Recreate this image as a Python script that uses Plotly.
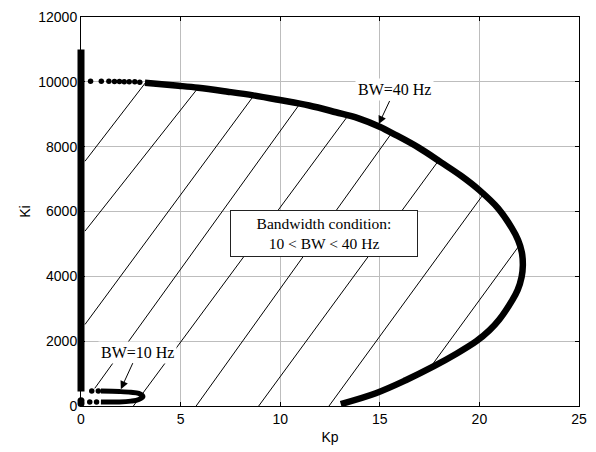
import plotly.graph_objects as go

# ---- data ----
# BW = 40 Hz boundary curve (Kp, Ki), from the Ki=0 end round to the top-left end
bw40_kp = [13.04, 14.80, 16.30, 17.72, 18.78, 19.85, 20.50, 21.00, 21.66, 21.92, 22.12, 22.18,
           22.13, 21.94, 21.63, 20.95, 19.98, 19.07, 18.08, 16.95, 15.76, 15.02, 13.90, 12.80,
           11.45, 9.98, 8.65, 7.36, 5.88, 4.89, 3.21]
bw40_ki = [60, 394, 794, 1227, 1588, 2000, 2333, 2667, 3273, 3576, 3985, 4333,
           4742, 5121, 5485, 6090, 6667, 7106, 7515, 7970, 8373, 8606, 8880, 9061,
           9270, 9439, 9582, 9697, 9818, 9879, 9970]
# sparse dots at the top-left end of the BW=40 curve
bw40_dot_kp = [0.48, 1.02, 1.40, 1.68, 1.93, 2.17, 2.42, 2.70, 2.95]
bw40_dot_ki = [10020, 10020, 10015, 10012, 10010, 10006, 10003, 10000, 9990]

# BW = 10 Hz small loop (Kp, Ki)
bw10_kp = [1.00, 1.93, 2.50, 2.90, 3.11, 2.90, 2.50, 1.93, 1.00]
bw10_ki = [125, 125, 150, 200, 294, 390, 425, 445, 460]
bw10_dot_kp = [0.44, 0.78, 0.54, 0.87]
bw10_dot_ki = [125, 125, 462, 462]

# vertical branch at Kp = 0
bar_kp = 0.0
bar_ki = [450, 11000]
bar_dot_kp = [0.0, 0.0]
bar_dot_ki = [80, 160]

# hatch segments (start / end in data coordinates)
hatch_kp0 = [0.20, 0.20, 0.20, 0.69, 2.63, 5.78, 8.92, 12.45, 17.55]
hatch_ki0 = [7550, 5394, 2515, 545, 0, 0, 0, 0, 1203]
hatch_kp1 = [3.24, 5.88, 8.68, 10.98, 13.41, 15.60, 17.95, 20.22, 22.00]
hatch_ki1 = [9975, 9815, 9580, 9318, 8961, 8424, 7570, 6550, 4950]

x_ticks = [0, 5, 10, 15, 20, 25]
y_ticks = [0, 2000, 4000, 6000, 8000, 10000, 12000]
y_ticktext = ["0", "2000", "4000", "6000", "8000", "10000", "12000"]
x_range = [0, 25]
y_range = [0, 12000]

fig = go.Figure()

# hatch lines
for k in range(len(hatch_kp0)):
    fig.add_trace(go.Scatter(x=[hatch_kp0[k], hatch_kp1[k]], y=[hatch_ki0[k], hatch_ki1[k]],
                             mode="lines", line=dict(color="black", width=1),
                             showlegend=False, hoverinfo="skip"))

# BW=40 curve
fig.add_trace(go.Scatter(x=bw40_kp, y=bw40_ki, mode="lines",
                         line=dict(color="black", width=6.5, shape="spline", smoothing=1.0),
                         showlegend=False))
fig.add_trace(go.Scatter(x=bw40_dot_kp, y=bw40_dot_ki, mode="markers",
                         marker=dict(color="black", size=5.5), cliponaxis=False,
                         showlegend=False))
# BW=10 loop
fig.add_trace(go.Scatter(x=bw10_kp, y=bw10_ki, mode="lines",
                         line=dict(color="black", width=5, shape="spline"),
                         showlegend=False))
fig.add_trace(go.Scatter(x=bw10_dot_kp, y=bw10_dot_ki, mode="markers",
                         marker=dict(color="black", size=5.5), cliponaxis=False,
                         showlegend=False))
fig.add_trace(go.Scatter(x=bar_dot_kp, y=bar_dot_ki, mode="markers",
                         marker=dict(color="black", size=7), cliponaxis=False,
                         showlegend=False))

# vertical branch at Kp=0 (paper x so that it is not clipped at the axis)
bar_xpaper = (bar_kp - x_range[0]) / (x_range[1] - x_range[0])
fig.add_shape(type="line", xref="paper", yref="y", x0=bar_xpaper, x1=bar_xpaper,
              y0=bar_ki[0], y1=bar_ki[1], line=dict(color="black", width=7), layer="above")

serif = "Liberation Serif, Times New Roman, serif"
fig.add_annotation(x=14.95, y=8700, xref="x", yref="y", text="BW=40 Hz",
                   showarrow=True, ax=16, ay=-34, arrowhead=2, arrowsize=1.6, arrowwidth=1,
                   arrowcolor="black", bgcolor="white", borderpad=2,
                   font=dict(family=serif, size=16, color="black"))
fig.add_annotation(x=2.0, y=520, xref="x", yref="y", text="BW=10 Hz",
                   showarrow=True, ax=17, ay=-37, arrowhead=2, arrowsize=1.6, arrowwidth=1,
                   arrowcolor="black", bgcolor="white", borderpad=2,
                   font=dict(family=serif, size=16, color="black"))
fig.add_annotation(x=12.2, y=5330, xref="x", yref="y",
                   text="Bandwidth condition:<br>10 &lt; BW &lt; 40 Hz",
                   showarrow=False, bgcolor="white", bordercolor="#222222", borderwidth=1,
                   width=186, height=45, borderpad=0,
                   font=dict(family=serif, size=15.5, color="black"))

axis_font = dict(family="Liberation Sans, Arial, sans-serif", size=14, color="black")
fig.update_xaxes(range=x_range, tickvals=x_ticks, ticks="inside", ticklen=4, tickcolor="black",
                 showline=True, linecolor="black", linewidth=1, mirror="ticks",
                 showgrid=True, gridcolor="#bdbdbd", gridwidth=1, zeroline=False,
                 tickfont=axis_font, title=dict(text="Kp", font=axis_font, standoff=6))
fig.update_yaxes(range=y_range, tickvals=y_ticks, ticktext=y_ticktext, ticks="inside", ticklen=4,
                 tickcolor="black", showline=True, linecolor="black", linewidth=1, mirror="ticks",
                 showgrid=True, gridcolor="#bdbdbd", gridwidth=1, zeroline=False,
                 tickfont=axis_font, title=dict(text="Ki", font=axis_font, standoff=4))
fig.update_layout(width=596, height=452, margin=dict(l=81, r=9, t=12, b=44),
                  plot_bgcolor="white", paper_bgcolor="white", showlegend=False)

fig.write_html("out.html")
